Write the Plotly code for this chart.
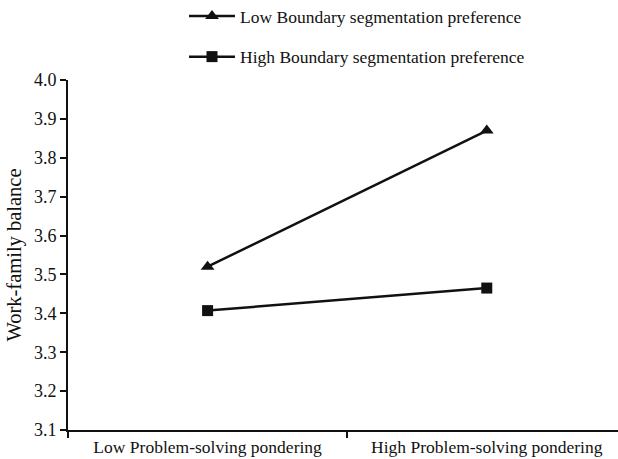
import plotly.graph_objects as go

categories = ["Low Problem-solving pondering", "High Problem-solving pondering"]
low_boundary = [3.52, 3.87]
high_boundary = [3.407, 3.465]
series_names = ["Low Boundary segmentation preference", "High Boundary segmentation preference"]

FONT = "Liberation Serif, Times New Roman, serif"
INK = "#111111"

fig = go.Figure()
fig.add_trace(go.Scatter(
    x=categories, y=low_boundary, mode="lines+markers", name=series_names[0],
    legendgroup="a",
    line=dict(color=INK, width=2.5),
    marker=dict(symbol="triangle-up", size=12, color=INK),
))
fig.add_trace(go.Scatter(
    x=categories, y=high_boundary, mode="lines+markers", name=series_names[1],
    legendgroup="b",
    line=dict(color=INK, width=2.5),
    marker=dict(symbol="square", size=11, color=INK),
))

fig.update_layout(
    width=618, height=459,
    margin=dict(l=68, r=0, t=80, b=29, autoexpand=False),
    paper_bgcolor="white", plot_bgcolor="white",
    font=dict(family=FONT, size=17.5, color=INK),
    showlegend=True,
    legend=dict(
        x=(184 - 68) / 550, y=1 + 82 / 350, xanchor="left", yanchor="top",
        traceorder="grouped", tracegroupgap=15, itemwidth=46,
        font=dict(family=FONT, size=17.5, color=INK),
        bgcolor="rgba(0,0,0,0)",
    ),
    xaxis=dict(
        type="category", range=[-0.5, 1.47],
        showline=True, linecolor=INK, linewidth=2,
        ticks="outside", tickson="boundaries", ticklen=6, tickwidth=2, tickcolor=INK,
        showgrid=False, zeroline=False,
        tickfont=dict(family=FONT, size=17.5, color=INK),
    ),
    yaxis=dict(
        range=[3.1, 4.0], dtick=0.1, tick0=3.1, tickformat=".1f",
        showline=True, linecolor=INK, linewidth=2,
        ticks="outside", ticklen=6, tickwidth=2, tickcolor=INK,
        showgrid=False, zeroline=False,
        tickfont=dict(family=FONT, size=18, color=INK),
        title=dict(text="Work-family balance", font=dict(family=FONT, size=20.5, color=INK), standoff=7),
    ),
)

fig.write_html("out.html", config={"displayModeBar": False},
               post_script="document.body.style.margin='0px';")
